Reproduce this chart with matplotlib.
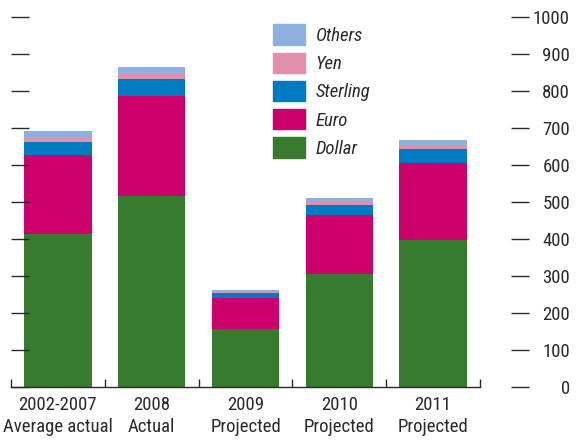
import matplotlib
matplotlib.use("Agg")
from matplotlib import pyplot as plt
from matplotlib.patches import Patch
import numpy as np

# data (billions)
categories = ["2002-2007\nAverage actual", "2008\nActual", "2009\nProjected",
              "2010\nProjected", "2011\nProjected"]
dollar = [414, 517, 157, 306, 398]
euro = [213, 269, 84, 158, 207]
sterling = [35, 46, 14, 28, 39]
yen = [13, 17, 4, 8, 11]
others = [17, 16, 4, 11, 13]

series_names = ["Dollar", "Euro", "Sterling", "Yen", "Others"]
series_values = [dollar, euro, sterling, yen, others]
colors = ["#377C2E", "#CC006A", "#007BC2", "#E18FAA", "#8DB0DE"]

text_color = "#2a2a2a"
plt.rcParams['font.family'] = ['Roboto Condensed', 'Archivo Narrow', 'DejaVu Sans']
plt.rcParams['text.color'] = text_color

fig = plt.figure(figsize=(5.76, 4.47), dpi=100)
ax = fig.add_axes([11 / 576, 59.7 / 447, 469 / 576, 370.3 / 447])

x = np.arange(len(categories))
bottom = np.zeros(len(categories))
for name, vals, col in zip(series_names, series_values, colors):
    ax.bar(x, vals, width=0.72, bottom=bottom, color=col, label=name)
    bottom += np.array(vals)

ax.set_xlim(-0.5, len(categories) - 0.5)
ax.set_ylim(0, 1000)

for side in ["top", "left"]:
    ax.spines[side].set_visible(False)
ax.spines["right"].set_position(("outward", 35.3))
ax.spines["right"].set_visible(False)
ax.spines["bottom"].set_color(text_color)
ax.spines["bottom"].set_linewidth(1.0)

ax.set_yticks(np.arange(0, 1001, 100))
ax.yaxis.set_ticks_position("both")
ax.tick_params(axis="y", direction="in", length=13, width=1.0, color=text_color,
               labelleft=False, labelright=True, labelsize=13.5, pad=29.5,
               labelcolor=text_color)
for lab in ax.get_yticklabels():
    lab.set_horizontalalignment("right")

ax.set_xticks(x)
ax.set_xticklabels(categories, linespacing=1.3)
ax.set_xticks(np.arange(-0.5, len(categories), 1), minor=True)
ax.tick_params(axis="x", which="major", length=0, labelsize=13.5, pad=6,
               labelcolor=text_color)
ax.tick_params(axis="x", which="minor", direction="in", length=6, width=1.0,
               color=text_color)

handles = [Patch(color=c, label=n) for n, c in zip(series_names, colors)][::-1]
ax.legend(handles=handles, loc="upper left", bbox_to_anchor=(0.542, 1.0),
          frameon=False, prop={"style": "italic", "size": 13.5},
          handlelength=1.7, handleheight=1.3, labelspacing=0.41,
          handletextpad=0.6, borderaxespad=0)

fig.savefig("out.png", dpi=100)
